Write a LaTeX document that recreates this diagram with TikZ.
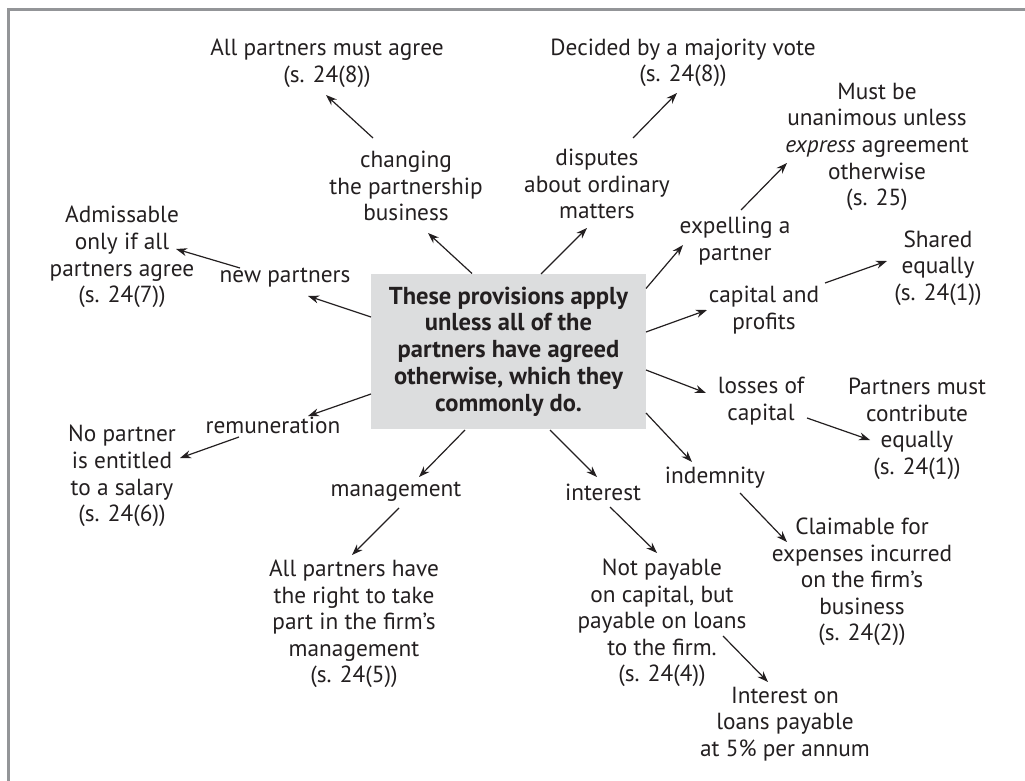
\documentclass[tikz,border=0pt]{standalone}
\usepackage{fontspec}
\setmainfont{PT Sans}
\usetikzlibrary{arrows.meta}
\definecolor{txt}{HTML}{231F20}
\definecolor{boxfill}{HTML}{DCDDDE}
\definecolor{framegray}{HTML}{939598}
\begin{document}
\begin{tikzpicture}[x=1pt,y=-1pt,
  lbl/.style={align=center, inner sep=0pt, text=txt, font=\fontsize{23.3}{26.6}\selectfont},
  centrebox/.style={lbl, fill=boxfill, minimum width=275pt, minimum height=155pt, font=\fontsize{24.5}{26.8}\selectfont\bfseries},
  arr/.style={draw=txt, line width=1.2pt, -{Stealth[length=11pt,width=8pt]}},
  framing/.style={draw=framegray, line width=3pt}]
\useasboundingbox (0,0) rectangle (1025,781);
\draw[framing] (8,781) -- (8,9.5) -- (1025,9.5);

\node[centrebox] (box) at (508.5,351.5) {These provisions apply\\unless all of the\\partners have agreed\\otherwise, which they\\commonly do.};

\node[lbl] (apm) at (327,63) {All partners must agree\\(s. 24(8))};
\node[lbl] (chg) at (406,186) {changing\\the partnership\\business};
\node[lbl] (adm) at (122,257) {Admissable\\only if all\\partners agree\\(s. 24(7))};
\node[lbl] (newp) at (285,278) {new partners};
\node[lbl] (rem) at (273,425) {remuneration};
\node[lbl] (nop) at (122,476) {No partner\\is entitled\\to a salary\\(s. 24(6))};
\node[lbl] (mgmt) at (396,492) {management};
\node[lbl] (aph) at (354,624) {All partners have\\the right to take\\part in the firm’s\\management\\(s. 24(5))};
\node[lbl] (dec) at (683,63) {Decided by a majority vote\\(s. 24(8))};
\node[lbl] (dis) at (597,184) {disputes\\about ordinary\\matters};
\node[lbl] (expel) at (735,241) {expelling a\\partner};
\node[lbl] (must) at (877,147) {Must be\\unanimous unless\\\emph{express} agreement\\otherwise\\(s. 25)};
\node[lbl] (shr) at (938,268) {Shared\\equally\\(s. 24(1))};
\node[lbl] (cap) at (764,310) {capital and\\profits};
\node[lbl] (los) at (761,401) {losses of\\capital};
\node[lbl] (pmc) at (917,429) {Partners must\\contribute\\equally\\(s. 24(1))};
\node[lbl] (ind) at (715,478) {indemnity};
\node[lbl] (intr) at (603,492) {interest};
\node[lbl] (notp) at (662,623) {Not payable\\on capital, but\\payable on loans\\to the firm.\\(s. 24(4))};
\node[lbl] (clm) at (862,582) {Claimable for\\expenses incurred\\on the firm’s\\business\\(s. 24(2))};
\node[lbl] (inton) at (785,724) {Interest on\\loans payable\\at 5\% per annum};

\draw[arr] ([shift={(-36.5,-78)}]box.center) -- ([shift={(22,47)}]chg.center);
\draw[arr] ([shift={(-33,-48)}]chg.center) -- ([shift={(-1,32)}]apm.center);
\draw[arr] ([shift={(-137.5,-34.5)}]box.center) -- ([shift={(23,18)}]newp.center);
\draw[arr] ([shift={(-45,-10)}]newp.center) -- ([shift={(54,-8)}]adm.center);
\draw[arr] ([shift={(-137.5,42.5)}]box.center) -- ([shift={(35,-9)}]rem.center);
\draw[arr] ([shift={(-34,12)}]rem.center) -- ([shift={(58,-18)}]nop.center);
\draw[arr] ([shift={(-43.5,78.5)}]box.center) -- ([shift={(23,-15)}]mgmt.center);
\draw[arr] ([shift={(3,16)}]mgmt.center) -- ([shift={(-2,-69)}]aph.center);
\draw[arr] ([shift={(32.5,-77.5)}]box.center) -- ([shift={(-10,44)}]dis.center);
\draw[arr] ([shift={(36,-46)}]dis.center) -- ([shift={(-6,30)}]dec.center);
\draw[arr] ([shift={(137.5,-63)}]box.center) -- ([shift={(-52,4)}]expel.center);
\draw[arr] ([shift={(6,-31)}]expel.center) -- ([shift={(-90,16)}]must.center);
\draw[arr] ([shift={(137.5,-19.5)}]box.center) -- ([shift={(-57,0)}]cap.center);
\draw[arr] ([shift={(61,-27)}]cap.center) -- ([shift={(-51,-7)}]shr.center);
\draw[arr] ([shift={(137.5,18.5)}]box.center) -- ([shift={(-55,-8)}]los.center);
\draw[arr] ([shift={(46,17)}]los.center) -- ([shift={(-47,11)}]pmc.center);
\draw[arr] ([shift={(137.5,61.5)}]box.center) -- ([shift={(-23,-16)}]ind.center);
\draw[arr] ([shift={(41.5,78.5)}]box.center) -- ([shift={(-6,-15)}]intr.center);
\draw[arr] ([shift={(7,15)}]intr.center) -- ([shift={(-5,-70)}]notp.center);
\draw[arr] ([shift={(25,15)}]ind.center) -- ([shift={(-75,-40)}]clm.center);
\draw[arr] ([shift={(61,13)}]notp.center) -- ([shift={(-17,-42)}]inton.center);
\end{tikzpicture}
\end{document}
